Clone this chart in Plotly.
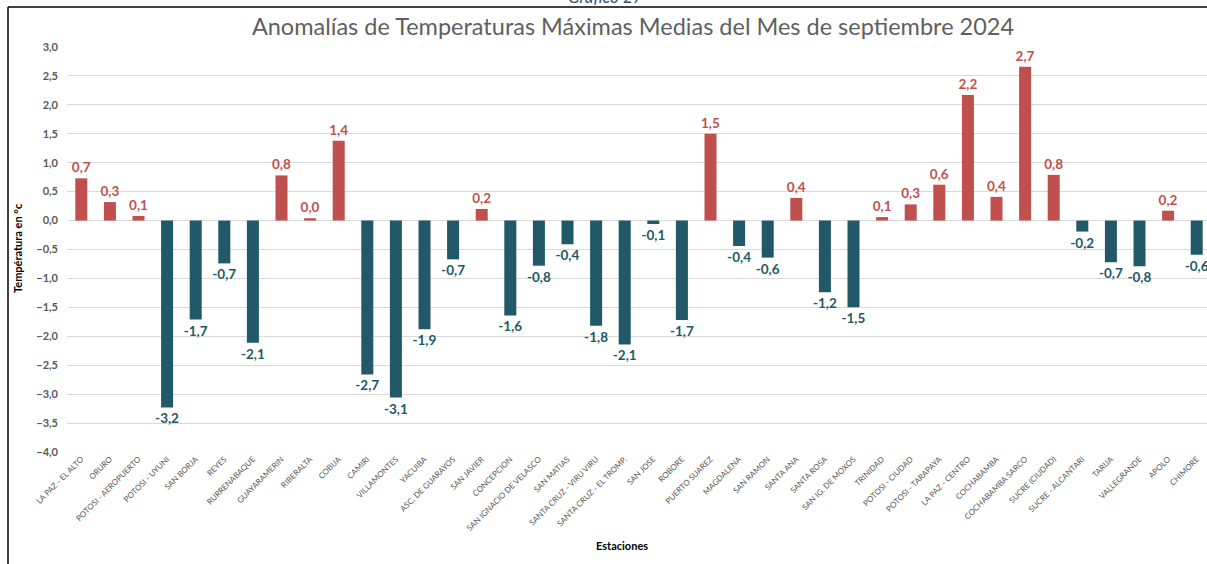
import plotly.graph_objects as go

estaciones = [
    "LA PAZ - EL ALTO", "ORURO", "POTOSI - AEROPUERTO", "POTOSI - UYUNI", "SAN BORJA",
    "REYES", "RURRENABAQUE", "GUAYARAMERIN", "RIBERALTA", "COBIJA",
    "CAMIRI", "VILLAMONTES", "YACUIBA", "ASC. DE GUARAYOS", "SAN JAVIER",
    "CONCEPCION", "SAN IGNACIO DE VELASCO", "SAN MATIAS", "SANTA CRUZ - VIRU VIRU",
    "SANTA CRUZ - EL TROMP.", "SAN JOSE", "ROBORE", "PUERTO SUAREZ", "MAGDALENA",
    "SAN RAMON", "SANTA ANA", "SANTA ROSA", "SAN IG. DE MOXOS", "TRINIDAD",
    "POTOSI - CIUDAD", "POTOSI - TARAPAYA", "LA PAZ - CENTRO", "COCHABAMBA",
    "COCHABAMBA SARCO", "SUCRE (CIUDAD)", "SUCRE - ALCANTARI", "TARIJA",
    "VALLEGRANDE", "APOLO", "CHIMORE",
]

anomalias = [
    0.73, 0.32, 0.08, -3.23, -1.71,
    -0.74, -2.11, 0.78, 0.04, 1.38,
    -2.66, -3.06, -1.88, -0.67, 0.20,
    -1.64, -0.78, -0.41, -1.82,
    -2.14, -0.06, -1.72, 1.50, -0.44,
    -0.64, 0.39, -1.24, -1.50, 0.06,
    0.28, 0.62, 2.17, 0.41,
    2.66, 0.79, -0.19, -0.72,
    -0.79, 0.17, -0.59,
]

ROJO = "#C0504D"
AZUL = "#215968"

colores = [ROJO if v >= 0 else AZUL for v in anomalias]
etiquetas = [f"{v:.1f}".replace(".", ",") for v in anomalias]

fig = go.Figure(
    go.Bar(
        x=estaciones,
        y=anomalias,
        marker=dict(color=colores, line=dict(width=0)),
        text=etiquetas,
        textposition="outside",
        constraintext="none",
        textfont=dict(color=colores, size=13.5, family="Lato", weight="bold"),
        cliponaxis=False,
        width=0.42,
    )
)

fig.update_layout(
    width=1207,
    height=564,
    margin=dict(l=67, r=0, t=47, b=112),
    paper_bgcolor="white",
    plot_bgcolor="white",
    separators=",.",
    showlegend=False,
    bargap=0.58,
    title=dict(
        text="Anomalías de Temperaturas Máximas Medias del Mes de septiembre 2024",
        x=0.4965, xanchor="center",
        xref="paper",
        y=0.953, yanchor="middle",
        font=dict(family="Lato", size=23.5, color="#5F5F5F"),
    ),
    xaxis=dict(
        range=[-0.5, 39.36],
        tickangle=-45,
        tickfont=dict(family="Lato", size=8, color="#595959"),
        showgrid=False,
        showline=False,
        ticks="",
        automargin=False,
    ),
    yaxis=dict(
        range=[-4, 3],
        dtick=0.5,
        tickformat=".1f",
        tickfont=dict(family="Lato", size=11, color="#595959", weight="bold"),
        showgrid=True,
        gridcolor="#D9D9D9",
        gridwidth=1,
        zeroline=True,
        zerolinecolor="#D9D9D9",
        zerolinewidth=1,
        showline=False,
        ticks="",
        ticklabelstandoff=8,
        automargin=False,
    ),
    annotations=[
        dict(
            text="Estaciones", xref="paper", yref="paper",
            x=(622 - 67) / 1140, y=-(545 - 452) / 405,
            xanchor="center", yanchor="middle", showarrow=False,
            font=dict(family="Lato", size=11, color="black", weight="bold"),
        ),
        dict(
            text="Températura en °c", xref="paper", yref="paper",
            x=(17 - 67) / 1140, y=(452 - 248) / 405,
            xanchor="center", yanchor="middle", showarrow=False, textangle=-90,
            font=dict(family="Lato", size=11, color="black", weight="bold"),
        ),
        dict(
            text="<i>Gráfico 27</i>", xref="paper", yref="paper",
            x=(605 - 67) / 1140, y=(452 - 9) / 405,
            xanchor="center", yanchor="bottom", showarrow=False,
            font=dict(family="Lato", size=17, color="#2F4F6F"),
        ),
    ],
    shapes=[
        # document frame around the chart
        dict(type="line", xref="paper", yref="paper",
             x0=(8 - 67) / 1140, x1=1.01, y0=(452 - 7) / 405, y1=(452 - 7) / 405,
             line=dict(color="black", width=1.5)),
        dict(type="line", xref="paper", yref="paper",
             x0=(8 - 67) / 1140, x1=(8 - 67) / 1140, y0=(452 - 7) / 405, y1=-0.4,
             line=dict(color="black", width=1.5)),
    ],
)

fig.write_html("out.html")
